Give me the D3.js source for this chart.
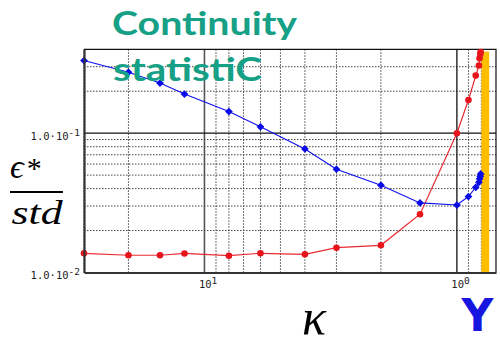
<!DOCTYPE html>
<html>
<head>
<meta charset="utf-8">
<script src="https://cdn.jsdelivr.net/npm/d3@7"></script>
<style>
  html, body { margin: 0; padding: 0; background: #fff; }
  svg { display: block; }
</style>
</head>
<body>
<svg id="chart" width="500" height="354"></svg>
<script>
// kappa values (shared by both series), decreasing towards the critical point
const kappa = [30, 20, 15, 12, 8, 6, 4, 3, 2, 1.4, 1, 0.9, 0.842, 0.818, 0.813, 0.808, 0.805];
// blue series (diamonds)
const blueValues = [0.332, 0.274, 0.229, 0.191, 0.143, 0.111, 0.077, 0.0551, 0.0423, 0.0316, 0.0305, 0.0351, 0.0409, 0.0444, 0.0470, 0.0490, 0.0510];
// red series (dots)
const redValues = [0.01374, 0.0133, 0.0133, 0.0137, 0.0132, 0.01374, 0.0135, 0.01507, 0.01567, 0.0262, 0.1, 0.173, 0.259, 0.306, 0.345, 0.370, 0.382];
// critical band marked in orange
const criticalBand = [0.8, 0.745];
const criticalSpan = [0.01, 0.385];

// tick labels: mantissa part and exponent part
const xTickValues = [10, 1];
const xTickBases = ["10", "10"];
const xTickExponents = ["1", "0"];
const yTickValues = [0.01, 0.1];
const yTickBases = ["1.0·10", "1.0·10"];
const yTickExponents = ["-2", "-1"];
const xMinorValues = [30, 20, 9, 8, 7, 6, 5, 4, 3, 2, 0.9, 0.8];
const yMinorValues = [0.02, 0.03, 0.04, 0.05, 0.06, 0.07, 0.08, 0.09, 0.2, 0.3];

(function draw() {
  const svg = d3.select("#chart");
  const plotLeft = 84, plotRight = 496, plotTop = 49.3, plotBottom = 272.5;

  const x = d3.scaleLog().domain([30, 0.7]).range([plotLeft, plotRight]);
  const y = d3.scaleLog().domain([0.01, 0.4]).range([plotBottom, plotTop]);

  // minor grid
  const grid = svg.append("g");
  grid.selectAll("line.vx").data(xMinorValues).join("line")
    .attr("x1", d => x(d)).attr("x2", d => x(d))
    .attr("y1", plotTop).attr("y2", plotBottom)
    .attr("stroke", "#444").attr("stroke-width", 1)
    .attr("stroke-dasharray", "1.5,1.5");
  grid.selectAll("line.hy").data(yMinorValues).join("line")
    .attr("x1", plotLeft).attr("x2", plotRight)
    .attr("y1", d => y(d)).attr("y2", d => y(d))
    .attr("stroke", "#444").attr("stroke-width", 1)
    .attr("stroke-dasharray", "1.5,1.5");

  // major grid (decades)
  grid.selectAll("line.mx").data(xTickValues).join("line")
    .attr("x1", d => x(d)).attr("x2", d => x(d))
    .attr("y1", plotTop).attr("y2", plotBottom)
    .attr("stroke", d => d === 10 ? "#555" : "#111").attr("stroke-width", d => d === 10 ? 1.6 : 1.3);
  grid.selectAll("line.my").data([0.1]).join("line")
    .attr("x1", plotLeft).attr("x2", plotRight)
    .attr("y1", d => y(d)).attr("y2", d => y(d))
    .attr("stroke", "#111").attr("stroke-width", 1.3);

  // top and right frame
  svg.append("path")
    .attr("d", `M${plotLeft},${plotTop}H${plotRight}V${plotBottom}`)
    .attr("fill", "none").attr("stroke", "#111").attr("stroke-width", 1.2);

  // critical band
  svg.append("rect")
    .attr("x", x(criticalBand[0]))
    .attr("width", x(criticalBand[1]) - x(criticalBand[0]))
    .attr("y", y(criticalSpan[1]))
    .attr("height", y(criticalSpan[0]) - y(criticalSpan[1]))
    .attr("fill", "#ffbf00");

  // series
  const line = (vals) => d3.line().x((d, i) => x(kappa[i])).y(d => y(d))(vals);

  svg.append("path").attr("d", line(redValues))
    .attr("fill", "none").attr("stroke", "#e8141c").attr("stroke-width", 1.2).attr("stroke-opacity", 0.9);
  svg.append("g").selectAll("circle").data(redValues).join("circle")
    .attr("cx", (d, i) => x(kappa[i])).attr("cy", d => y(d)).attr("r", 3.3)
    .attr("fill", "#e8141c");

  svg.append("path").attr("d", line(blueValues))
    .attr("fill", "none").attr("stroke", "#1010f0").attr("stroke-width", 1.1);
  const diamond = d3.symbol().type(d3.symbolSquare).size(30);
  svg.append("g").selectAll("path").data(blueValues).join("path")
    .attr("d", diamond)
    .attr("transform", (d, i) => `translate(${x(kappa[i])},${y(d)}) rotate(45)`)
    .attr("fill", "#0a0ae6");

  // superscript exponent appended to each tick label
  function addExponent(sel, exps) {
    sel.each(function (d, i) {
      d3.select(this).append("tspan")
        .attr("dy", "-0.45em").attr("font-size", 9.5).text(exps[i]);
    });
  }

  // axes
  const xAxis = d3.axisBottom(x).tickValues(xTickValues)
    .tickFormat((d, i) => xTickBases[i]).tickSize(0).tickPadding(8);
  const gx = svg.append("g").attr("transform", `translate(0,${plotBottom})`).call(xAxis);
  gx.select(".domain").attr("stroke", "#333").attr("stroke-width", 2.2);
  gx.selectAll("text").attr("font-family", "DejaVu Sans Mono").attr("font-size", 10.5).attr("fill", "#222")
    .attr("dx", "0.3em").call(addExponent, xTickExponents);

  const yAxis = d3.axisLeft(y).tickValues(yTickValues)
    .tickFormat((d, i) => yTickBases[i]).tickSize(0).tickPadding(4);
  const gy = svg.append("g").attr("transform", `translate(${plotLeft},0)`).call(yAxis);
  gy.select(".domain").attr("stroke", "#333").attr("stroke-width", 2.2);
  gy.selectAll("text").attr("font-family", "DejaVu Sans Mono").attr("font-size", 10.5).attr("fill", "#222")
    .attr("dy", "0.6em").call(addExponent, yTickExponents);

  // axis titles
  const yTitle = svg.append("g").attr("font-family", "Liberation Serif").attr("fill", "#000");
  const num = yTitle.append("text").attr("x", 10).attr("y", 178).attr("font-size", 34);
  num.append("tspan").attr("font-style", "italic").text("ϵ");
  num.append("tspan").attr("dx", 3).attr("font-size", 30).text("*");
  yTitle.append("line").attr("x1", 10).attr("x2", 63).attr("y1", 192).attr("y2", 192)
    .attr("stroke", "#000").attr("stroke-width", 2);
  yTitle.append("text").attr("x", 37).attr("y", 224).attr("text-anchor", "middle")
    .attr("font-style", "italic")
    .attr("font-size", 33).attr("textLength", 51).attr("lengthAdjust", "spacingAndGlyphs").text("std");

  svg.append("text").attr("x", 314).attr("y", 334).attr("text-anchor", "middle")
    .attr("font-family", "Liberation Serif").attr("font-style", "italic").attr("font-size", 50)
    .text("κ");

  // title
  const title = svg.append("g").attr("font-family", "Lato").attr("font-weight", "bold").attr("fill", "#16a085");
  title.append("text").attr("x", 112).attr("y", 35).attr("font-size", 32)
    .attr("textLength", 185).attr("lengthAdjust", "spacingAndGlyphs").text("Continuity");
  title.append("text").attr("x", 113).attr("y", 81).attr("font-size", 32)
    .attr("textLength", 149).attr("lengthAdjust", "spacingAndGlyphs").text("statistiC");

  // corner mark
  svg.append("text").attr("x", 477.5).attr("y", 331).attr("text-anchor", "middle")
    .attr("font-family", "DejaVu Sans").attr("font-weight", "bold").attr("font-size", 44)
    .attr("fill", "#1616e0").text("Y");
})();
</script>
</body>
</html>
